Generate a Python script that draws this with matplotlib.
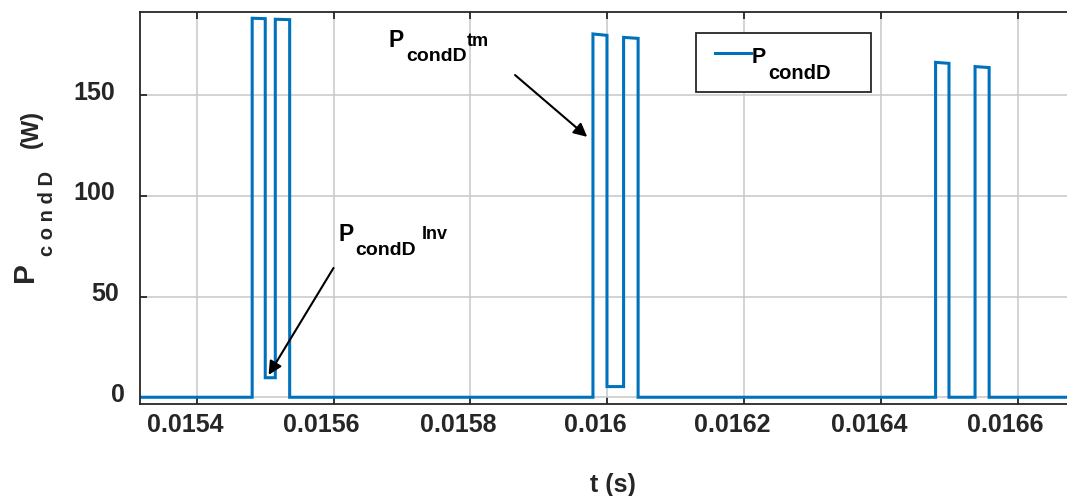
import matplotlib
matplotlib.use("Agg")
import matplotlib.pyplot as plt
from matplotlib.patches import Rectangle
from matplotlib.lines import Line2D
import matplotlib.transforms as mtransforms

# ---------------- data ----------------
t_pts = [0.015317, 0.015481, 0.015481, 0.0155001, 0.0155001, 0.0155148, 0.0155148, 0.0155358, 0.0155358,
         0.0159792, 0.0159792, 0.0159997, 0.0159997, 0.016024, 0.016024, 0.0160452, 0.0160452,
         0.0164801, 0.0164801, 0.0164997, 0.0164997, 0.0165378, 0.0165378, 0.0165584, 0.0165584, 0.0167]
p_pts = [0, 0, 188.2, 188.0, 9.7, 9.7, 187.7, 187.5, 0,
         0, 180.4, 179.7, 5.3, 5.3, 178.7, 178.2, 0,
         0, 166.3, 165.8, 0, 0, 164.2, 163.7, 0, 0]
xticks = [0.0154, 0.0156, 0.0158, 0.0160, 0.0162, 0.0164, 0.0166]
xticklabels = ["0.0154", "0.0156", "0.0158", "0.016", "0.0162", "0.0164", "0.0166"]
yticks = [0, 50, 100, 150]
yticklabels = ["0", "50", "100", "150"]
series_name = "P"
series_sub = "condD"

W, H = 1067, 496
DARK = "#262626"
BLUE = "#0072BD"
plt.rcParams["font.family"] = ["Liberation Sans", "DejaVu Sans"]
plt.rcParams["font.weight"] = "bold"

fig = plt.figure(figsize=(W / 100, H / 100), dpi=100)
left, right, top, bottom = 140, 1086, 12, 403.7
ax = fig.add_axes([left / W, 1 - bottom / H, (right - left) / W, (bottom - top) / H])

ax.plot(t_pts, p_pts, color=BLUE, lw=2.2, solid_joinstyle="miter")

ax.set_xlim(0.015317, 0.0167)
ax.set_ylim(-3.2, 191.3)
ax.set_xticks(xticks)
ax.set_xticklabels(xticklabels)
ax.set_yticks(yticks)
ax.set_yticklabels(yticklabels)
ax.grid(True, color="#c8c8c8", lw=1.1)
ax.set_axisbelow(True)
for s in ["left", "bottom", "top"]:
    ax.spines[s].set_color(DARK)
    ax.spines[s].set_linewidth(1.3)
ax.spines["right"].set_visible(False)
ax.tick_params(direction="in", length=5, width=1.3, color=DARK, top=True, right=False,
               labelsize=18, labelcolor=DARK)
ax.tick_params(axis="y", pad=18)
ax.tick_params(axis="x", pad=7)

# MATLAB-like slight offsets of the tick labels
xoff = mtransforms.ScaledTranslation(-12 / 100, 0, fig.dpi_scale_trans)
for lab in ax.get_xticklabels():
    lab.set_transform(lab.get_transform() + xoff)
ydx = {"0": 10, "50": 4, "100": 0, "150": 0}
for lab in ax.get_yticklabels():
    off = mtransforms.ScaledTranslation(ydx.get(lab.get_text(), 0) / 100, 5 / 100, fig.dpi_scale_trans)
    lab.set_transform(lab.get_transform() + off)


def fx(x):
    return x / W


def fy(y):
    return 1 - y / H


# y label pieces
fig.text(fx(33.3), fy(282), "P", rotation=90, rotation_mode="anchor", ha="left", va="baseline",
         fontsize=21.5, fontweight="bold", color=DARK)
fig.text(fx(53.3), fy(256), "c o n d D", rotation=90, rotation_mode="anchor", ha="left", va="baseline",
         fontsize=14.5, fontweight="bold", color=DARK)
fig.text(fx(38), fy(148), "(W)", rotation=90, rotation_mode="anchor", ha="left", va="baseline",
         fontsize=17, fontweight="bold", color=DARK)

# x label
fig.text(fx(613), fy(492), "t (s)", ha="center", va="baseline", fontsize=18, fontweight="bold", color=DARK)


def composite(xp, yp, sup, sub_dx, sup_dx, sup_dy):
    fig.text(fx(xp), fy(yp), series_name, fontsize=16.5, fontweight="bold", color="k", va="baseline")
    fig.text(fx(xp + sub_dx), fy(yp + 14.5), series_sub, fontsize=14, fontweight="bold", color="k",
             va="baseline")
    fig.text(fx(xp + sup_dx), fy(yp + sup_dy), sup, fontsize=13, fontweight="bold", color="k",
             va="baseline")


# annotations: text + arrows
composite(338, 240.7, "Inv", 17, 84, -2)
composite(389, 46.7, "tm", 17, 78, -0.5)
ax.annotate("", xy=(0.0155050, 11.1), xytext=(0.0155999, 64.2),
            arrowprops=dict(arrowstyle="-|>", color="k", lw=1.5, mutation_scale=20, shrinkA=0, shrinkB=0))
ax.annotate("", xy=(0.0159708, 129.3), xytext=(0.0158653, 160.0),
            arrowprops=dict(arrowstyle="-|>", color="k", lw=1.5, mutation_scale=20, shrinkA=0, shrinkB=0))

# legend (MATLAB style box)
fig.add_artist(Rectangle((fx(696), fy(91.7)), (870.7 - 696) / W, (91.7 - 33.3) / H, transform=fig.transFigure,
                         facecolor="white", edgecolor=DARK, lw=1.3, zorder=5))
fig.add_artist(Line2D([fx(715), fx(750.7)], [fy(53.3), fy(53.3)], transform=fig.transFigure,
                      color=BLUE, lw=2.2, zorder=6))
fig.text(fx(752), fy(63.3), series_name, fontsize=15.5, fontweight="bold", color="k", va="baseline", zorder=6)
fig.text(fx(768), fy(79.3), series_sub, fontsize=14.5, fontweight="bold", color="k", va="baseline", zorder=6)

fig.savefig("out.png", dpi=100)
